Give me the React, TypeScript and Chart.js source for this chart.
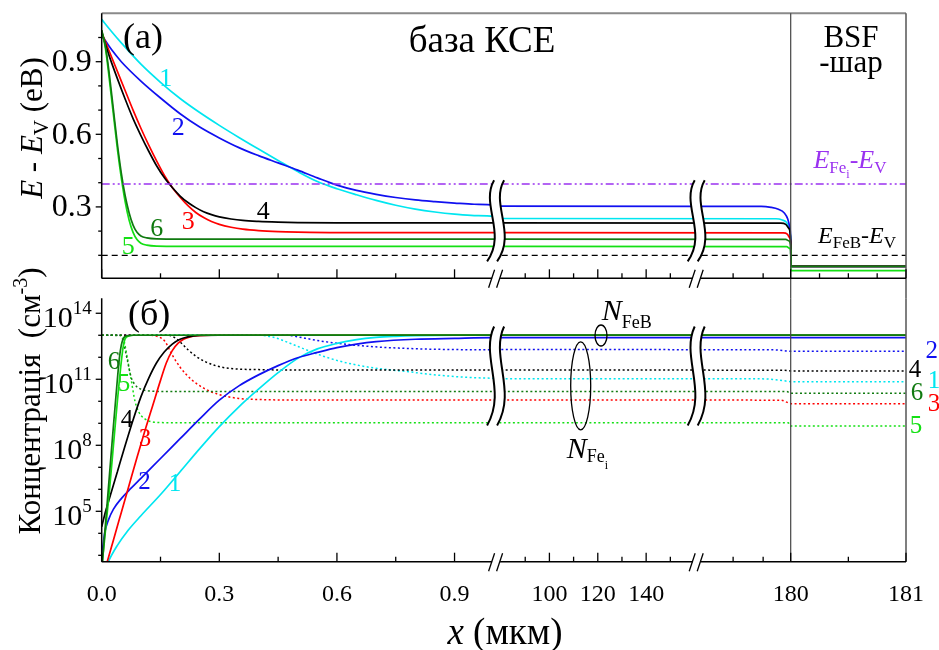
import { useEffect, useRef } from 'react';
import { Chart, registerables } from 'chart.js';
Chart.register(...registerables);

const SERIF = '"Liberation Serif", "Times New Roman", Times, serif';

// ---------- broken x axis (µm -> axis position) ----------
const X_KNOTS_UM = [0, 1.006, 78, 160.9, 180, 181];
const X_KNOTS_POS = [0, 394.4, 394.5, 595, 689, 804.3];
const X_MAJOR = [0, 0.3, 0.6, 0.9, 100, 120, 140, 180, 181];
const X_MAJOR_LABELS = ['0.0', '0.3', '0.6', '0.9', '100', '120', '140', '180', '181'];
const X_MINOR_TOP = [0.15, 0.45, 0.75, 90, 110, 130, 150, 168.3, 174.4, 180.25, 180.5, 180.75];
const X_MINOR_BOTTOM = [0.15, 0.45, 0.75, 90, 110, 130, 150, 168.3, 174.4, 180.5];
const X_BREAKS_UM = [1.006, 160.9];
const BSF_START = 180;

// ---------- top panel: E - Ev (eV) ----------
const Y_TOP_MAJOR = [0.3, 0.6, 0.9];
const Y_TOP_MINOR = [0.1, 0.2, 0.4, 0.5, 0.7, 0.8, 1.0];
const E_FEB = 0.1;
const E_FEI = 0.395;

const E1_BASE = [[0, 1.075], [0.025, 1.025], [0.05, 0.978], [0.1, 0.89], [0.15, 0.815], [0.2, 0.748], [0.25, 0.69], [0.3, 0.637], [0.35, 0.587], [0.4, 0.539], [0.45, 0.492], [0.5, 0.446], [0.55, 0.405], [0.6, 0.375], [0.65, 0.35], [0.7, 0.327], [0.75, 0.307], [0.8, 0.291], [0.85, 0.279], [0.9, 0.27], [0.95, 0.264], [1.0, 0.26]];
const E2_BASE = [[0, 1.01], [0.025, 0.95], [0.05, 0.9], [0.1, 0.82], [0.15, 0.75], [0.2, 0.685], [0.25, 0.63], [0.3, 0.585], [0.35, 0.545], [0.4, 0.512], [0.45, 0.482], [0.5, 0.452], [0.55, 0.42], [0.6, 0.39], [0.65, 0.368], [0.7, 0.352], [0.75, 0.339], [0.8, 0.329], [0.85, 0.322], [0.9, 0.316], [0.95, 0.311], [1.0, 0.308]];
const E3_BASE = [[0, 1.02], [0.02, 0.94], [0.04, 0.86], [0.06, 0.78], [0.08, 0.7], [0.1, 0.625], [0.12, 0.555], [0.14, 0.49], [0.16, 0.43], [0.18, 0.38], [0.2, 0.34], [0.22, 0.305], [0.24, 0.277], [0.26, 0.256], [0.28, 0.24], [0.3, 0.228], [0.33, 0.216], [0.36, 0.208], [0.4, 0.202], [0.45, 0.198], [0.5, 0.196], [0.6, 0.194], [1.0, 0.194]];
const E4_BASE = [[0, 1.02], [0.02, 0.92], [0.04, 0.83], [0.06, 0.745], [0.08, 0.665], [0.1, 0.595], [0.12, 0.53], [0.14, 0.47], [0.16, 0.42], [0.18, 0.38], [0.2, 0.345], [0.22, 0.318], [0.24, 0.297], [0.26, 0.28], [0.28, 0.268], [0.3, 0.259], [0.33, 0.25], [0.36, 0.244], [0.4, 0.24], [0.45, 0.237], [0.5, 0.235], [0.6, 0.234], [1.0, 0.234]];
const E5_BASE = [[0, 1.03], [0.01, 0.95], [0.02, 0.82], [0.03, 0.68], [0.04, 0.54], [0.05, 0.42], [0.06, 0.32], [0.07, 0.245], [0.08, 0.195], [0.09, 0.165], [0.1, 0.15], [0.115, 0.142], [0.14, 0.138], [0.2, 0.137], [1.0, 0.137]];
const E6_BASE = [[0, 1.03], [0.01, 0.96], [0.02, 0.84], [0.03, 0.7], [0.04, 0.56], [0.05, 0.44], [0.06, 0.345], [0.07, 0.275], [0.08, 0.225], [0.09, 0.195], [0.1, 0.18], [0.115, 0.172], [0.14, 0.168], [0.2, 0.167], [1.0, 0.167]];

const E1_TAIL = [[78, 0.252], [177, 0.251], [178.3, 0.246], [179.2, 0.235], [179.7, 0.21], [180, 0.16]];
const E2_TAIL = [[78, 0.303], [174, 0.302], [176, 0.298], [177.5, 0.29], [178.7, 0.275], [179.4, 0.25], [179.8, 0.215], [180, 0.16]];
const E3_TAIL = [[78, 0.194], [178.5, 0.193], [179.3, 0.188], [179.8, 0.172], [180, 0.15]];
const E4_TAIL = [[78, 0.234], [178, 0.233], [179, 0.228], [179.6, 0.212], [180, 0.16]];
const E5_TAIL = [[78, 0.137], [179.2, 0.136], [179.7, 0.13], [180, 0.12]];
const E6_TAIL = [[78, 0.167], [179, 0.166], [179.6, 0.16], [180, 0.14]];
const E_BSF = [0.054, 0.054, 0.054, 0.054, 0.037, 0.054];

// ---------- bottom panel: lg N (cm^-3) ----------
const LG_MIN = 2.71;
const LG_MAX = 14.68;
const LG_MAJOR = [5, 8, 11, 14];
const LG_MINOR = [3, 4, 6, 7, 9, 10, 12, 13];

// N_FeB (solid), lg values
const S1_BASE = [[0, 1.9], [0.017, 2.71], [0.04, 3.45], [0.068, 4.15], [0.1, 4.8], [0.153, 5.82], [0.2, 6.8], [0.25, 7.85], [0.3, 8.85], [0.35, 9.75], [0.4, 10.55], [0.45, 11.3], [0.5, 11.95], [0.55, 12.38], [0.6, 12.63], [0.65, 12.8], [0.7, 12.9], [0.75, 12.95], [0.8, 12.98], [0.9, 13.0], [1.0, 13.0]];
const S2_BASE = [[0, 2.9], [0.003, 3.4], [0.008, 4.05], [0.017, 4.6], [0.03, 5.1], [0.051, 5.6], [0.075, 6.05], [0.1, 6.5], [0.15, 7.4], [0.2, 8.3], [0.25, 9.2], [0.3, 10.05], [0.35, 10.7], [0.4, 11.2], [0.45, 11.62], [0.5, 11.98], [0.55, 12.22], [0.6, 12.44], [0.65, 12.6], [0.7, 12.71], [0.8, 12.82], [0.9, 12.86], [1.0, 12.89]];
const S3_BASE = [[0, 1.9], [0.013, 2.64], [0.03, 3.7], [0.05, 4.95], [0.07, 6.2], [0.09, 7.45], [0.11, 8.65], [0.13, 9.8], [0.15, 10.95], [0.165, 11.75], [0.18, 12.3], [0.195, 12.64], [0.21, 12.83], [0.225, 12.93], [0.245, 12.98], [0.28, 13.0], [1.0, 13.0]];
const S4_BASE = [[0, 4.3], [0.01, 5.0], [0.02, 5.6], [0.04, 6.8], [0.06, 8.0], [0.08, 9.15], [0.1, 10.2], [0.12, 11.05], [0.14, 11.75], [0.16, 12.25], [0.18, 12.6], [0.2, 12.82], [0.22, 12.93], [0.25, 12.99], [0.3, 13.0], [1.0, 13.0]];
const S5_BASE = [[0, 2.4], [0.01, 4.2], [0.02, 6.0], [0.03, 8.0], [0.04, 10.0], [0.05, 11.8], [0.055, 12.5], [0.06, 12.85], [0.07, 12.97], [0.08, 13.0], [1.0, 13.0]];
const S6_BASE = [[0, 2.3], [0.005, 3.4], [0.01, 4.5], [0.02, 6.7], [0.03, 8.9], [0.04, 11.0], [0.045, 11.95], [0.05, 12.55], [0.055, 12.85], [0.06, 12.95], [0.07, 12.99], [0.08, 13.0], [1.0, 13.0]];
const S_PLATEAU = [13.0, 12.89, 13.0, 13.0, 13.0, 13.0];

// N_Fei (dotted), lg values
const D1_BASE = [[0, 13.0], [0.4, 13.0], [0.44, 12.9], [0.48, 12.64], [0.523, 12.33], [0.565, 12.05], [0.608, 11.82], [0.65, 11.65], [0.693, 11.52], [0.778, 11.35], [0.863, 11.18], [0.94, 11.08], [1.0, 11.04]];
const D2_BASE = [[0, 13.0], [0.47, 13.0], [0.52, 12.86], [0.565, 12.72], [0.63, 12.58], [0.693, 12.48], [0.78, 12.4], [0.863, 12.36], [1.0, 12.34]];
const D3_BASE = [[0, 13.0], [0.12, 13.0], [0.14, 12.96], [0.16, 12.75], [0.18, 12.1], [0.2, 11.55], [0.23, 10.97], [0.26, 10.6], [0.3, 10.3], [0.35, 10.13], [0.4, 10.08], [0.5, 10.06], [1.0, 10.06]];
const D4_BASE = [[0, 13.0], [0.17, 13.0], [0.19, 12.85], [0.221, 12.33], [0.24, 12.05], [0.264, 11.8], [0.29, 11.62], [0.323, 11.5], [0.4, 11.44], [0.5, 11.42], [1.0, 11.42]];
const D5_BASE = [[0, 13.0], [0.05, 13.0], [0.055, 12.9], [0.065, 12.0], [0.075, 11.0], [0.085, 10.0], [0.095, 9.5], [0.11, 9.2], [0.13, 9.06], [0.16, 9.03], [1.0, 9.03]];
const D6_BASE = [[0, 13.0], [0.05, 12.98], [0.055, 12.7], [0.065, 11.9], [0.075, 11.1], [0.085, 10.75], [0.1, 10.55], [0.12, 10.47], [0.15, 10.45], [1.0, 10.45]];

const D1_TAIL = [[78, 11.03], [174, 11.02], [177, 10.98], [179, 10.92], [180, 10.89], [181, 10.89]];
const D2_TAIL = [[78, 12.35], [176.5, 12.34], [178.5, 12.3], [180, 12.27], [181, 12.27]];
const D3_TAIL = [[78, 10.06], [178, 10.05], [179.3, 9.95], [180, 9.89], [181, 9.89]];
const D4_TAIL = [[78, 11.42], [178.5, 11.41], [179.5, 11.39], [180, 11.38], [181, 11.38]];
const D5_TAIL = [[78, 9.03], [179.5, 9.02], [180, 8.88], [181, 8.88]];
const D6_TAIL = [[78, 10.45], [179.2, 10.44], [180, 10.36], [181, 10.36]];

const COLORS = ['#00E6F0', '#1010F0', '#FF0000', '#000000', '#14E014', '#107A10'];
const PURPLE = '#9A32F0';
const CURVE_LABELS = ['1', '2', '3', '4', '5', '6'];

function toPos(um: number) {
  for (let i = 0; i < X_KNOTS_UM.length - 1; i++) {
    if (um <= X_KNOTS_UM[i + 1] || i === X_KNOTS_UM.length - 2) {
      const t = (um - X_KNOTS_UM[i]) / (X_KNOTS_UM[i + 1] - X_KNOTS_UM[i]);
      return X_KNOTS_POS[i] + t * (X_KNOTS_POS[i + 1] - X_KNOTS_POS[i]);
    }
  }
  return 0;
}

type Part = { t: string; size: number; italic?: boolean; dy?: number; color?: string };
function rich(ctx: CanvasRenderingContext2D, parts: Part[], x: number, y: number, align = 'left', rot = 0, color = '#000') {
  ctx.save();
  ctx.translate(x, y);
  if (rot) ctx.rotate(rot);
  ctx.textBaseline = 'alphabetic';
  ctx.textAlign = 'left';
  const fontOf = (p: Part) => `${p.italic ? 'italic ' : ''}${p.size}px ${SERIF}`;
  let w = 0;
  const ws = parts.map((p) => { ctx.font = fontOf(p); const m = ctx.measureText(p.t).width; w += m; return m; });
  let cx = align === 'center' ? -w / 2 : align === 'right' ? -w : 0;
  parts.forEach((p, i) => {
    ctx.font = fontOf(p);
    ctx.fillStyle = p.color || color;
    ctx.fillText(p.t, cx, p.dy || 0);
    cx += ws[i];
  });
  ctx.restore();
}

function label(ctx: CanvasRenderingContext2D, t: string, x: number, y: number, size: number, color: string) {
  ctx.save();
  ctx.font = `${size}px ${SERIF}`;
  ctx.fillStyle = color;
  ctx.textAlign = 'center';
  ctx.textBaseline = 'middle';
  ctx.fillText(t, x, y);
  ctx.restore();
}

function line(ctx: CanvasRenderingContext2D, x1: number, y1: number, x2: number, y2: number, color = '#000', w = 1.5) {
  ctx.save();
  ctx.strokeStyle = color;
  ctx.lineWidth = w;
  ctx.beginPath();
  ctx.moveTo(x1, y1);
  ctx.lineTo(x2, y2);
  ctx.stroke();
  ctx.restore();
}

function waves(ctx: CanvasRenderingContext2D, bx: number, yTop: number, yBot: number) {
  const h = yBot - yTop;
  const w = (cx: number) => [[cx + 2, yTop], [cx - 12, yTop + 0.3 * h], [cx + 15, yTop + 0.65 * h], [cx - 5, yBot]];
  const a = w(bx - 5);
  const b = w(bx + 5);
  ctx.save();
  ctx.beginPath();
  ctx.moveTo(a[0][0], a[0][1]);
  ctx.bezierCurveTo(a[1][0], a[1][1], a[2][0], a[2][1], a[3][0], a[3][1]);
  ctx.lineTo(b[3][0], b[3][1]);
  ctx.bezierCurveTo(b[2][0], b[2][1], b[1][0], b[1][1], b[0][0], b[0][1]);
  ctx.closePath();
  ctx.fillStyle = '#fff';
  ctx.fill();
  ctx.strokeStyle = '#000';
  ctx.lineWidth = 2;
  [a, b].forEach((p) => {
    ctx.beginPath();
    ctx.moveTo(p[0][0], p[0][1]);
    ctx.bezierCurveTo(p[1][0], p[1][1], p[2][0], p[2][1], p[3][0], p[3][1]);
    ctx.stroke();
  });
  ctx.restore();
}

function axisBreak(ctx: CanvasRenderingContext2D, bx: number, y: number) {
  ctx.save();
  ctx.fillStyle = '#fff';
  ctx.fillRect(bx - 4, y - 2, 8, 4);
  ctx.restore();
  line(ctx, bx - 7.5, y + 9.5, bx - 1.5, y - 8.5, '#000', 1.3);
  line(ctx, bx + 0.5, y + 9.5, bx + 6.5, y - 8.5, '#000', 1.3);
}

function xTicks(ctx: CanvasRenderingContext2D, chart: any, minor: number[]) {
  const xs = chart.scales.x;
  const b = chart.chartArea.bottom;
  X_MAJOR.forEach((u) => { const p = xs.getPixelForValue(toPos(u)); line(ctx, p, b, p, b - 9, '#000', 1.3); });
  minor.forEach((u) => { const p = xs.getPixelForValue(toPos(u)); line(ctx, p, b, p, b - 5, '#000', 1.3); });
}

const topDecor = {
  id: 'topDecor',
  afterDatasetsDraw(chart: any) {
    const ctx = chart.ctx as CanvasRenderingContext2D;
    const xs = chart.scales.x;
    const ys = chart.scales.y;
    X_BREAKS_UM.forEach((u) => waves(ctx, xs.getPixelForValue(toPos(u)) + 1, ys.getPixelForValue(0.41), ys.getPixelForValue(0.075)));
  },
  afterDraw(chart: any) {
    const ctx = chart.ctx as CanvasRenderingContext2D;
    const { left, right, top, bottom } = chart.chartArea;
    const xs = chart.scales.x;
    const ys = chart.scales.y;
    const bsf = xs.getPixelForValue(toPos(BSF_START));
    line(ctx, left, top, right, top, '#8a8a8a', 2);
    line(ctx, right, top, right, bottom + 20, '#555', 1.5);
    line(ctx, bsf, top, bsf, bottom + 20, '#444', 1.2);
    line(ctx, left, top, left, bottom, '#000', 1.5);
    line(ctx, left, bottom, right, bottom, '#000', 1.5);
    Y_TOP_MAJOR.forEach((v) => { const p = ys.getPixelForValue(v); line(ctx, left, p, left - 6, p, '#000', 1.3); });
    Y_TOP_MINOR.forEach((v) => { const p = ys.getPixelForValue(v); line(ctx, left, p, left - 3.5, p, '#000', 1.3); });
    xTicks(ctx, chart, X_MINOR_TOP);
    X_BREAKS_UM.forEach((u) => axisBreak(ctx, xs.getPixelForValue(toPos(u)), bottom));
    ctx.save();
    ctx.font = `32px ${SERIF}`;
    ctx.fillStyle = '#000';
    ctx.textAlign = 'right';
    ctx.textBaseline = 'middle';
    Y_TOP_MAJOR.forEach((v) => ctx.fillText(v.toFixed(1), left - 10, ys.getPixelForValue(v) + 1));
    ctx.restore();
    rich(ctx, [
      { t: 'E', size: 31, italic: true }, { t: ' - ', size: 31 }, { t: 'E', size: 31, italic: true },
      { t: 'V', size: 21, dy: 6 }, { t: ' (eB)', size: 31 },
    ], 42, 128, 'center', -Math.PI / 2);
    rich(ctx, [{ t: '(a)', size: 36 }], 123, 48);
    rich(ctx, [{ t: 'база КСЕ', size: 37 }], 482, 52, 'center');
    rich(ctx, [{ t: 'BSF', size: 31 }], 851, 46.7, 'center');
    rich(ctx, [{ t: '-шар', size: 31 }], 851, 71.7, 'center');
    rich(ctx, [
      { t: 'E', size: 26, italic: true }, { t: 'Fe', size: 17, dy: 5 }, { t: 'i', size: 12, dy: 10 },
      { t: '-', size: 26 }, { t: 'E', size: 26, italic: true }, { t: 'V', size: 17, dy: 5 },
    ], 850, 168.3, 'center', 0, PURPLE);
    rich(ctx, [
      { t: 'E', size: 24, italic: true }, { t: 'FeB', size: 17, dy: 5 },
      { t: '-', size: 24 }, { t: 'E', size: 24, italic: true }, { t: 'V', size: 17, dy: 5 },
    ], 857, 243.3, 'center');
    const lp = [[165.8, 79.5], [178.3, 128.3], [188.3, 221.7], [263.3, 211.7], [128.3, 246.7], [156.7, 229.5]];
    lp.forEach((p, i) => label(ctx, CURVE_LABELS[i], p[0], p[1], 26, COLORS[i]));
  },
};

const botDecor = {
  id: 'botDecor',
  afterDatasetsDraw(chart: any) {
    const ctx = chart.ctx as CanvasRenderingContext2D;
    const xs = chart.scales.x;
    const ys = chart.scales.y;
    X_BREAKS_UM.forEach((u) => waves(ctx, xs.getPixelForValue(toPos(u)) + 1, ys.getPixelForValue(Math.pow(10, 13.4)), ys.getPixelForValue(Math.pow(10, 8.9))));
  },
  afterDraw(chart: any) {
    const ctx = chart.ctx as CanvasRenderingContext2D;
    const { left, right, top, bottom } = chart.chartArea;
    const xs = chart.scales.x;
    const ys = chart.scales.y;
    const bsf = xs.getPixelForValue(toPos(BSF_START));
    line(ctx, right, top, right, bottom, '#555', 1.5);
    line(ctx, bsf, top, bsf, bottom, '#444', 1.2);
    line(ctx, left, top, left, bottom, '#000', 1.5);
    line(ctx, left, bottom, right, bottom, '#000', 1.5);
    LG_MAJOR.forEach((v) => { const p = ys.getPixelForValue(Math.pow(10, v)); line(ctx, left, p, left - 6, p, '#000', 1.3); });
    LG_MINOR.forEach((v) => { const p = ys.getPixelForValue(Math.pow(10, v)); line(ctx, left, p, left - 3.5, p, '#000', 1.3); });
    xTicks(ctx, chart, X_MINOR_BOTTOM);
    X_BREAKS_UM.forEach((u) => axisBreak(ctx, xs.getPixelForValue(toPos(u)), bottom));
    LG_MAJOR.forEach((v) => {
      const p = ys.getPixelForValue(Math.pow(10, v));
      rich(ctx, [{ t: '10', size: 30 }, { t: String(v), size: 19, dy: -13 }], left - 10, p + 14, 'right');
    });
    ctx.save();
    ctx.font = `24px ${SERIF}`;
    ctx.fillStyle = '#000';
    ctx.textAlign = 'center';
    ctx.textBaseline = 'alphabetic';
    X_MAJOR.forEach((u, i) => ctx.fillText(X_MAJOR_LABELS[i], xs.getPixelForValue(toPos(u)), bottom + 39));
    ctx.restore();
    rich(ctx, [{ t: 'x', size: 37, italic: true }, { t: ' (мкм)', size: 37 }], 505, 644, 'center');
    rich(ctx, [
      { t: 'Концентрація  (см', size: 31 }, { t: '-3', size: 20, dy: -13 }, { t: ')', size: 31 },
    ], 40, 401, 'center', -Math.PI / 2);
    rich(ctx, [{ t: '(б)', size: 36 }], 128, 325);
    rich(ctx, [{ t: 'N', size: 30, italic: true }, { t: 'FeB', size: 18, dy: 8 }], 601.7, 320);
    rich(ctx, [{ t: 'N', size: 30, italic: true }, { t: 'Fe', size: 18, dy: 4 }, { t: 'i', size: 12, dy: 11 }], 566.7, 458.3);
    ctx.save();
    ctx.strokeStyle = '#000';
    ctx.lineWidth = 1.3;
    ctx.beginPath();
    ctx.ellipse(601, 335.5, 6, 10.5, 0, 0, Math.PI * 2);
    ctx.stroke();
    ctx.beginPath();
    ctx.ellipse(580.7, 385.8, 10, 44, 0, 0, Math.PI * 2);
    ctx.stroke();
    ctx.restore();
    const lp = [[175, 484], [144.5, 482], [145, 439], [127, 420.8], [124, 384], [114, 362.5]];
    lp.forEach((p, i) => label(ctx, CURVE_LABELS[i], p[0], p[1], 25, COLORS[i]));
    const rp = [[934, 381.7], [931.7, 351.7], [934, 404], [915, 370], [916, 426], [917, 393.3]];
    rp.forEach((p, i) => label(ctx, CURVE_LABELS[i], p[0], p[1], 25, COLORS[i]));
  },
};

function pts(arr: number[][], lg = false) {
  return arr.map(([x, y]) => ({ x: toPos(x), y: lg ? Math.pow(10, y) : y }));
}

function topConfig(): any {
  const bases = [E1_BASE, E2_BASE, E3_BASE, E4_BASE, E5_BASE, E6_BASE];
  const tails = [E1_TAIL, E2_TAIL, E3_TAIL, E4_TAIL, E5_TAIL, E6_TAIL];
  const orders = [5, 4, 3, 2, 1, 0];
  const curves = bases.map((b, i) => ({
    data: pts([...b, ...tails[i], [180.002, E_BSF[i]], [181, E_BSF[i]]]),
    borderColor: COLORS[i],
    borderWidth: 1.7,
    order: orders[i] + 2,
    cubicInterpolationMode: 'monotone',
  }));
  const refs = [
    { data: pts([[0, E_FEB], [181, E_FEB]]), borderColor: '#000', borderWidth: 1.3, borderDash: [6, 4], order: 1 },
    { data: pts([[0, E_FEI], [181, E_FEI]]), borderColor: PURPLE, borderWidth: 1.5, borderDash: [8, 3, 2, 3, 2, 3], order: 0 },
  ];
  return {
    type: 'line',
    data: { datasets: [...curves, ...refs] },
    options: {
      responsive: false,
      animation: false,
      devicePixelRatio: 1,
      layout: { padding: { left: 101.7, right: 33, top: 13.3, bottom: 371.7 } },
      elements: { point: { radius: 0 }, line: { tension: 0 } },
      plugins: { legend: { display: false }, tooltip: { enabled: false } },
      scales: {
        x: { type: 'linear', min: 0, max: X_KNOTS_POS[X_KNOTS_POS.length - 1], display: false },
        y: { type: 'linear', min: 0.005, max: 1.1, display: false },
      },
    },
    plugins: [topDecor],
  };
}

function botConfig(): any {
  const sb = [S1_BASE, S2_BASE, S3_BASE, S4_BASE, S5_BASE, S6_BASE];
  const db = [D1_BASE, D2_BASE, D3_BASE, D4_BASE, D5_BASE, D6_BASE];
  const dt = [D1_TAIL, D2_TAIL, D3_TAIL, D4_TAIL, D5_TAIL, D6_TAIL];
  const orders = [5, 4, 3, 2, 1, 0];
  const solids = sb.map((b, i) => ({
    data: pts([...b, [78, S_PLATEAU[i]], [181, S_PLATEAU[i]]], true),
    borderColor: COLORS[i],
    borderWidth: 1.7,
    order: orders[i],
    cubicInterpolationMode: 'monotone',
  }));
  const dots = db.map((b, i) => ({
    data: pts([...b, ...dt[i]], true),
    borderColor: COLORS[i],
    borderWidth: 1.5,
    borderDash: [2, 2.5],
    order: orders[i] + 10,
    cubicInterpolationMode: 'monotone',
  }));
  return {
    type: 'line',
    data: { datasets: [...solids, ...dots] },
    options: {
      responsive: false,
      animation: false,
      devicePixelRatio: 1,
      layout: { padding: { left: 101.7, right: 33, top: 298.3, bottom: 88.3 } },
      elements: { point: { radius: 0 }, line: { tension: 0 } },
      plugins: { legend: { display: false }, tooltip: { enabled: false } },
      scales: {
        x: { type: 'linear', min: 0, max: X_KNOTS_POS[X_KNOTS_POS.length - 1], display: false },
        y: { type: 'logarithmic', min: Math.pow(10, LG_MIN), max: Math.pow(10, LG_MAX), display: false },
      },
    },
    plugins: [botDecor],
  };
}

export default function App() {
  const topRef = useRef<HTMLCanvasElement>(null);
  const botRef = useRef<HTMLCanvasElement>(null);
  useEffect(() => {
    const c1 = new Chart(topRef.current as HTMLCanvasElement, topConfig());
    const c2 = new Chart(botRef.current as HTMLCanvasElement, botConfig());
    return () => { c1.destroy(); c2.destroy(); };
  }, []);
  return (
    <div style={{ position: 'fixed', left: 0, top: 0, width: 939, height: 650, background: '#fff' }}>
      <canvas ref={topRef} width={939} height={650} style={{ position: 'absolute', left: 0, top: 0 }} />
      <canvas ref={botRef} width={939} height={650} style={{ position: 'absolute', left: 0, top: 0 }} />
    </div>
  );
}
